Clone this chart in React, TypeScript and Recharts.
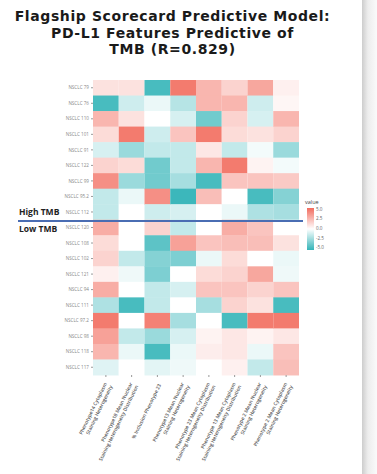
import React from "react";
import { BarChart, Bar, XAxis, YAxis, Cell } from "recharts";

// samples, top to bottom (first 9 = High TMB, last 10 = Low TMB)
const samples = [
  "NSCLC 79", "NSCLC 76", "NSCLC 110", "NSCLC 101", "NSCLC 91", "NSCLC 122",
  "NSCLC 99", "NSCLC 95.2", "NSCLC 112", "NSCLC 120", "NSCLC 108", "NSCLC 102",
  "NSCLC 121", "NSCLC 94", "NSCLC 111", "NSCLC 97.2", "NSCLC 98", "NSCLC 118",
  "NSCLC 117",
];

const features: string[][] = [
  ["Phenotype14 Cytoplasm", "Staining Heterogeneity"],
  ["Phenotype18 Mean Nuclear", "Staining Heterogeneity Distribution"],
  ["% Inclusion Phenotype 23"],
  ["Phenotype13 Mean Nuclear", "Staining Heterogeneity"],
  ["Phenotype 23 Mean Cytoplasm", "Staining Heterogeneity Distribution"],
  ["Phenotype 13 Mean Cytoplasm", "Staining Heterogeneity Distribution"],
  ["Phenotype 2 Mean Nuclear", "Staining Heterogeneity"],
  ["Phenotype 2 Mean Cytoplasm", "Staining Heterogeneity"],
];

// one array per feature column, values per sample (same order as samples)
const phenotype14Cyto = [1, -4.5, 2.5, 1.2, -1, 1.5, 3.8, -1.5, -1.5, 2.8, 1.2, 1.5, 0.5, 2.8, -2, 4.5, 3.2, 2.5, -0.8];
const phenotype18Nuc = [1, -1.2, 1, 4.5, -2.5, 1.2, -2.5, -0.5, 0, 0, 0, -1.5, -0.4, 0, -4.5, 0, -1.5, -0.5, 0];
const inclusion23 = [-4.5, -0.5, 0, -1.2, -1.5, -3.5, -3.5, 3.8, -1.2, 1.5, -4, -3, -3.2, -1.5, -1.5, 4.3, -2.5, -4.5, -0.7];
const phenotype13Nuc = [4.5, -1.8, -1, 2, -1.5, -1.5, -2.2, -4.8, -1, -1.5, 3.2, -3.2, 0, -1, 0, -2.2, -1, -0.5, -0.4];
const phenotype23Cyto = [2.5, 2.5, -3.5, 4.5, 0.8, 2.5, -4.5, 2.2, 0, 0, 2, -0.5, 1.2, 2, -2.2, 0, 0.4, 0.6, 0];
const phenotype13Cyto = [1.5, 2.5, 1.5, 1.2, -1.5, 4.5, 2, 0, -0.5, 2.8, 2.2, 1.2, 1.5, 2, 1.5, -4.5, 0.8, 0.8, 0.5];
const phenotype2Nuc = [3, -1.2, -1, 1, -0.3, 0.4, 2, -4.5, -2, 2, 2.2, 0, 3, 1.5, 1, 4.5, 0.4, -0.5, -1.5];
const phenotype2Cyto = [0.5, 0.3, 2.5, 1.5, -2.5, -0.3, 1.8, -3, -2.2, 0, 1, -0.5, -0.4, 2, -4.5, 4.5, 0.8, 2, 2.2];

const columns = [
  phenotype14Cyto, phenotype18Nuc, inclusion23, phenotype13Nuc,
  phenotype23Cyto, phenotype13Cyto, phenotype2Nuc, phenotype2Cyto,
];

const legendTicks = ["5.0", "2.5", "0.0", "-2.5", "-5.0"];
const colTicks = features.map((_, i) => i + 0.5);

// each column is a unit-wide stacked segment; colour carries the value
const table = samples.map((s, r) => {
  const row: any = { sample: s };
  columns.forEach((col, c) => {
    row[`w${c}`] = 1;
    row[`v${c}`] = col[r];
  });
  return row;
});

const HIGH = [242, 108, 94];
const LOW = [52, 180, 184];
const heatColor = (v: number) => {
  const t = Math.min(Math.abs(v) / 5, 1);
  const end = v >= 0 ? HIGH : LOW;
  const mix = end.map((e) => Math.round(255 + (e - 255) * t));
  return `rgb(${mix[0]},${mix[1]},${mix[2]})`;
};

const FeatureTick = ({ x, y, payload }: any) => {
  const lines = features[Math.floor(payload.value)] || [];
  return (
    <g transform={`translate(${x + 2},${y + 5})`}>
      <text
        transform="rotate(-64)"
        textAnchor="end"
        fontSize={4.9}
        fontWeight={600}
        fill="#555"
        fontFamily="'Open Sans', sans-serif"
      >
        {lines.map((l, i) => (
          <tspan key={i} x={0} dy={i === 0 ? (lines.length > 1 ? -1 : 2) : 6.3}>
            {l}
          </tspan>
        ))}
      </text>
    </g>
  );
};

const App = () => {
  return (
    <div
      style={{
        position: "absolute",
        left: 0,
        top: 0,
        width: 377,
        height: 474,
        background: "#fff",
        overflow: "hidden",
        fontFamily: "'Open Sans', sans-serif",
      }}
    >
      <div
        style={{
          position: "absolute",
          left: 0,
          top: 8,
          width: 345,
          textAlign: "center",
          fontWeight: 700,
          fontSize: 14,
          letterSpacing: 0.6,
          lineHeight: "16.5px",
          color: "#1a1a1a",
          fontFamily: "'DejaVu Sans', sans-serif",
        }}
      >
        Flagship Scorecard Predictive Model:
        <br />
        PD-L1 Features Predictive of
        <br />
        TMB (R=0.829)
      </div>

      <div style={{ position: "absolute", left: 0, top: 0 }}>
        <BarChart
          width={377}
          height={474}
          data={table}
          layout="vertical"
          barCategoryGap={0}
          margin={{ top: 80, right: 78, bottom: 8, left: 0 }}
        >
          <XAxis
            type="number"
            domain={[0, 8]}
            ticks={colTicks}
            interval={0}
            height={91}
            axisLine={false}
            tickLine={{ stroke: "#999" }}
            tickSize={2}
            tick={<FeatureTick />}
          />
          <YAxis
            type="category"
            dataKey="sample"
            width={93}
            interval={0}
            axisLine={false}
            tickLine={{ stroke: "#999" }}
            tickSize={2}
            tick={{ fontSize: 4.6, fill: "#888" }}
          />
          {columns.map((_, c) => (
            <Bar key={c} dataKey={`w${c}`} stackId="h" isAnimationActive={false}>
              {table.map((row, r) => (
                <Cell key={r} fill={heatColor(row[`v${c}`])} />
              ))}
            </Bar>
          ))}
        </BarChart>
      </div>

      {/* High / Low TMB divider */}
      <div
        style={{
          position: "absolute",
          left: 18,
          top: 220,
          width: 285,
          height: 1.5,
          background: "#4a6db3",
        }}
      />
      <div style={{ position: "absolute", left: 19, top: 206, fontSize: 8.5, lineHeight: "12px", fontWeight: 700, color: "#222" }}>
        High TMB
      </div>
      <div style={{ position: "absolute", left: 19, top: 223, fontSize: 8.5, lineHeight: "12px", fontWeight: 700, color: "#222" }}>
        Low TMB
      </div>

      {/* colour legend */}
      <div style={{ position: "absolute", left: 305, top: 199, fontSize: 5.5, lineHeight: "6px", color: "#444" }}>value</div>
      <div
        style={{
          position: "absolute",
          left: 307,
          top: 208,
          width: 7,
          height: 42,
          background: `linear-gradient(to bottom, ${heatColor(5)}, #ffffff 50%, ${heatColor(-5)})`,
        }}
      />
      {legendTicks.map((t, i) => (
        <div
          key={t}
          style={{
            position: "absolute",
            left: 316,
            top: 206.5 + i * 9.7,
            fontSize: 4.6,
            lineHeight: "5px",
            color: "#666",
          }}
        >
          {t}
        </div>
      ))}

      {/* page edge shadow */}
      <div
        style={{
          position: "absolute",
          left: 362,
          top: 0,
          width: 15,
          height: 474,
          background: "linear-gradient(to right, #cdcdcd, #ededed 40%, #fafafa)",
        }}
      />
    </div>
  );
};

export default App;
